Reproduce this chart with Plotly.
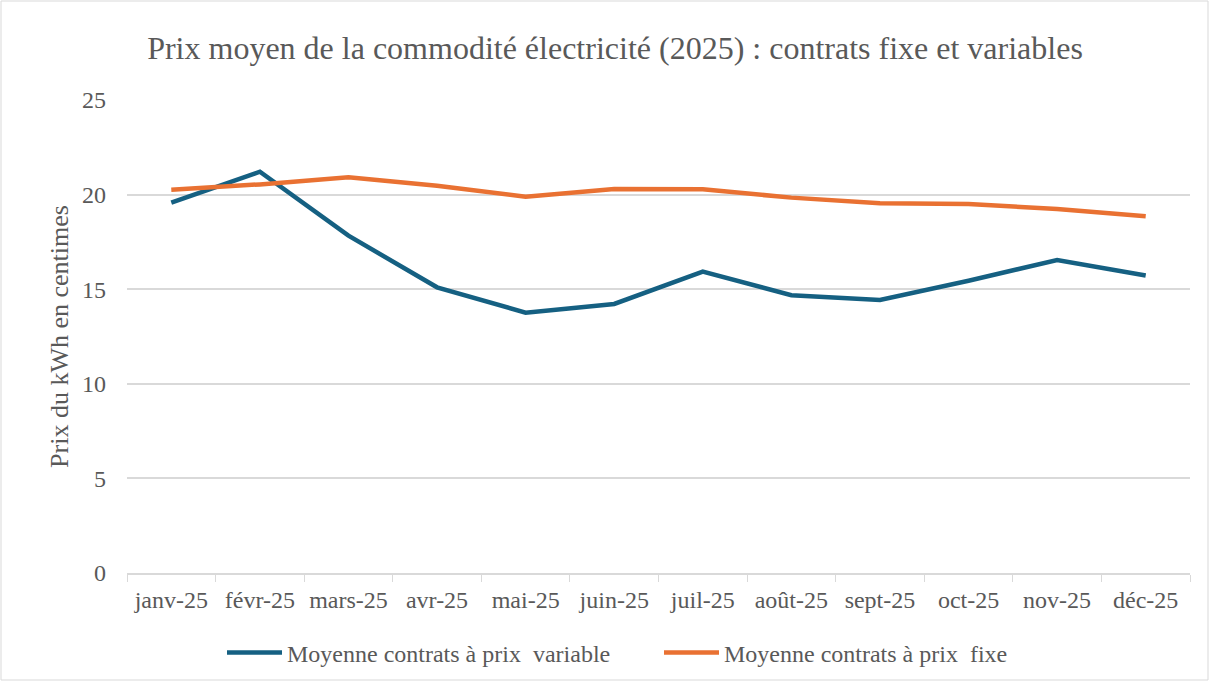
import plotly.graph_objects as go

months = ["janv-25", "févr-25", "mars-25", "avr-25", "mai-25", "juin-25",
          "juil-25", "août-25", "sept-25", "oct-25", "nov-25", "déc-25"]
variable = [19.57, 21.21, 17.83, 15.10, 13.76, 14.22, 15.93, 14.68, 14.43, 15.45, 16.54, 15.72]
fixe = [20.26, 20.54, 20.91, 20.47, 19.89, 20.30, 20.28, 19.84, 19.54, 19.50, 19.24, 18.85]

FONT = "Liberation Serif"
GREY = "#595959"

fig = go.Figure()
fig.add_trace(go.Scatter(x=months, y=variable, mode="lines",
                         name="Moyenne contrats à prix  variable",
                         line=dict(color="#156082", width=4.5)))
fig.add_trace(go.Scatter(x=months, y=fixe, mode="lines",
                         name="Moyenne contrats à prix  fixe",
                         line=dict(color="#E97132", width=4.5)))

W, H = 1209, 683
ml, mr, mt, mb = 127, 19, 100, 110
pw, ph = W - ml - mr, H - mt - mb

fig.update_layout(
    width=W, height=H,
    margin=dict(l=ml, r=mr, t=mt, b=mb, autoexpand=False),
    paper_bgcolor="white", plot_bgcolor="white",
    font=dict(family=FONT, color=GREY, size=24),
    title=dict(text="Prix moyen de la commodité électricité (2025) : contrats fixe et variables",
               x=615 / W, xanchor="center", y=1 - 48 / H, yanchor="middle",
               font=dict(family=FONT, size=32, color=GREY)),
    xaxis=dict(type="category", showgrid=False, showline=True, linecolor="#d9d9d9",
               linewidth=1.5, ticks="outside", tickson="boundaries", ticklen=7,
               tickcolor="#d9d9d9", tickfont=dict(family=FONT, size=24, color=GREY),
               tickangle=0, automargin=False, ticklabelstandoff=4,
               range=[-0.5, 11.5]),
    yaxis=dict(range=[0, 25], dtick=5, showgrid=True, gridcolor="#d9d9d9",
               gridwidth=1.5, zeroline=False, showline=False, ticks="",
               ticklabelstandoff=20, automargin=False,
               tickfont=dict(family=FONT, size=24, color=GREY),
               title=dict(text="Prix du kWh en centimes", standoff=5,
                          font=dict(family=FONT, size=26, color=GREY))),
    legend=dict(orientation="h", x=(222 - ml) / pw, xanchor="left",
                y=-(653 - 573) / ph, yanchor="middle",
                font=dict(family=FONT, size=24, color=GREY),
                itemwidth=55,
                entrywidth=367, entrywidthmode="pixels"),
    showlegend=True,
)

fig.add_shape(type="rect", xref="paper", yref="paper",
              x0=(1 - ml) / pw, x1=(W - 1 - ml) / pw,
              y0=-(H - 3 - mt - ph) / ph, y1=1 + (mt - 1) / ph,
              line=dict(color="#d9d9d9", width=1), layer="below")

fig.write_html("out.html", config={"displayModeBar": False},
               post_script="document.body.style.margin='0px';document.body.style.padding='0px';")
